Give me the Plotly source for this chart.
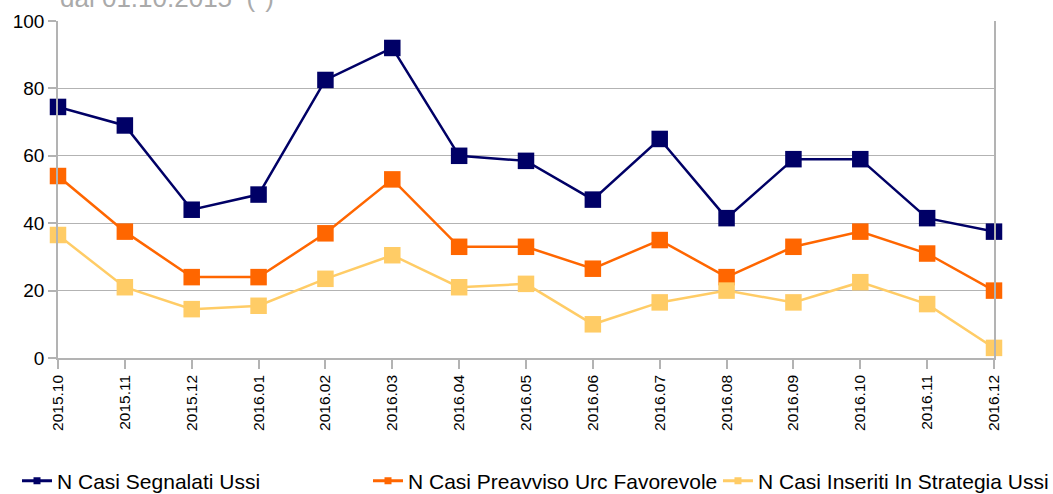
import plotly.graph_objects as go

categories = ["2015.10", "2015.11", "2015.12", "2016.01", "2016.02", "2016.03", "2016.04",
              "2016.05", "2016.06", "2016.07", "2016.08", "2016.09", "2016.10", "2016.11", "2016.12"]
segnalati = [74.5, 69, 44, 48.5, 82.5, 92, 60, 58.5, 47, 65, 41.5, 59, 59, 41.5, 37.5]
preavviso = [54, 37.5, 24, 24, 37, 53, 33, 33, 26.5, 35, 24, 33, 37.5, 31, 20]
inseriti = [36.5, 21, 14.5, 15.5, 23.5, 30.5, 21, 22, 10, 16.5, 20, 16.5, 22.5, 16, 3]

series_names = ["N Casi Segnalati Ussi", "N Casi Preavviso Urc Favorevole", "N Casi Inseriti In Strategia Ussi"]
series_values = [segnalati, preavviso, inseriti]
colors = ["#000066", "#ff6600", "#ffcc66"]
y_ticks = [0, 20, 40, 60, 80, 100]

FONT = "Liberation Sans, Arial, sans-serif"
GRID = "#b3b3b3"
legend_ids = ["legend", "legend2", "legend3"]
legend_x = [-0.0438, 0.3312, 0.7051]

fig = go.Figure()
for name, vals, col in zip(series_names, series_values, colors):
    fig.add_trace(go.Scatter(
        x=categories, y=vals, mode="lines+markers", name=name, showlegend=False,
        line=dict(color=col, width=2.5),
        marker=dict(symbol="square", size=16.5, color=col),
        cliponaxis=False,
    ))
for name, col, lid in zip(series_names, colors, legend_ids):
    fig.add_trace(go.Scatter(
        x=[None], y=[None], mode="lines+markers", name=name, legend=lid,
        line=dict(color=col, width=3),
        marker=dict(symbol="square", size=7, color=col),
    ))

legend_common = dict(
    orientation="h", xanchor="left", y=-0.365, yanchor="middle",
    font=dict(size=21, family=FONT, color="#000000"),
    bgcolor="rgba(0,0,0,0)",
)
layout_legends = {lid: dict(legend_common, x=lx) for lid, lx in zip(legend_ids, legend_x)}

fig.update_layout(
    width=1053, height=494,
    margin=dict(l=58, r=59, t=21, b=136, autoexpand=False),
    paper_bgcolor="white", plot_bgcolor="white",
    font=dict(family=FONT, color="#000000"),
    annotations=[dict(
        text="dal 01.10.2015  (*)", xref="paper", yref="paper", x=0.0, y=1,
        xanchor="left", yanchor="bottom", yshift=6, showarrow=False,
        font=dict(size=26, color="#aaaaaa", family=FONT),
    )],
    **layout_legends,
)
fig.update_xaxes(
    type="category", range=[0, len(categories) - 1],
    showline=True, linecolor=GRID, linewidth=1.5,
    ticks="outside", ticklen=9, tickwidth=2, tickcolor=GRID,
    tickangle=-90, tickfont=dict(size=15.5, family=FONT, color="#000000"),
    showgrid=False, zeroline=False,
)
fig.update_yaxes(
    range=[0, 100], tickvals=y_ticks,
    showline=True, linecolor=GRID, linewidth=1.5, mirror=True,
    ticks="outside", ticklen=8, tickwidth=2, tickcolor=GRID,
    tickfont=dict(size=19, family=FONT, color="#000000"),
    showgrid=True, gridcolor=GRID, gridwidth=1, zeroline=False,
)

fig.write_html(
    "out.html",
    config={"displayModeBar": False},
    post_script="document.body.style.margin='0';document.body.style.overflow='hidden';",
)
